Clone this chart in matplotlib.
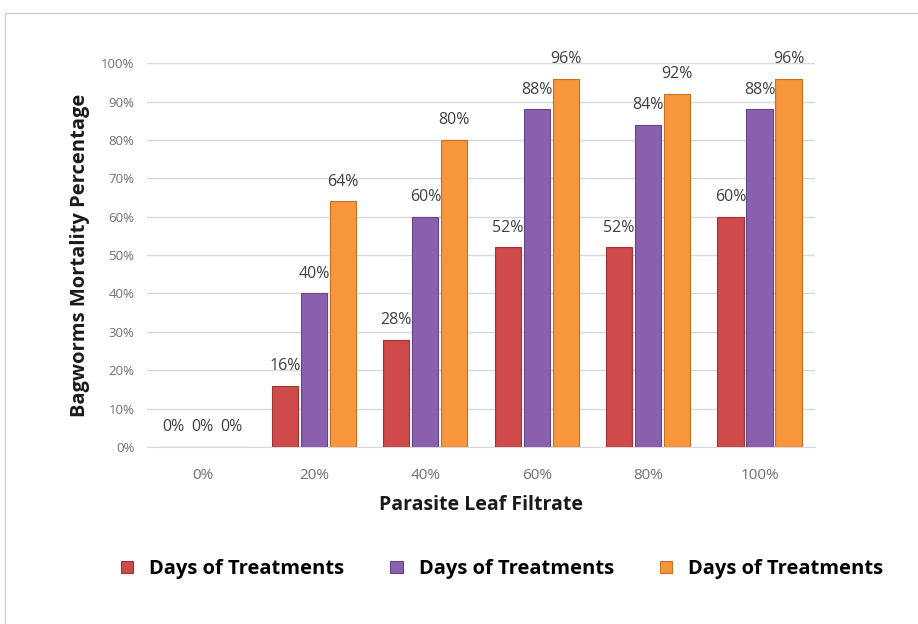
import matplotlib.pyplot as plt
from matplotlib.patches import Rectangle
import numpy as np

categories = ['0%', '20%', '40%', '60%', '80%', '100%']
series_names = ['Days of Treatments', 'Days of Treatments', 'Days of Treatments']
red_vals = [0, 16, 28, 52, 52, 60]
purple_vals = [0, 40, 60, 88, 84, 88]
orange_vals = [0, 64, 80, 96, 92, 96]
yticks = [0, 10, 20, 30, 40, 50, 60, 70, 80, 90, 100]

plt.rcParams['font.family'] = ['Open Sans', 'DejaVu Sans']

fig = plt.figure(figsize=(9.18, 6.24), dpi=100)
fig.patches.append(Rectangle((5 / 918, -0.1), 1.2, 1 - 13 / 624 + 0.1,
                             transform=fig.transFigure, fill=False,
                             edgecolor='#D0D0D0', linewidth=1))
ax = fig.add_axes([0.160, 0.2837, 0.728, 0.615])

x = np.arange(len(categories))
colors = ['#CF4A4A', '#8A60AE', '#F7963C']
edges = ['#A03333', '#654487', '#C9701E']
width = 0.235
offsets = [-0.26, 0, 0.26]
all_vals = [red_vals, purple_vals, orange_vals]

handles = []
for vals, off, c, ec, name in zip(all_vals, offsets, colors, edges, series_names):
    bars = ax.bar(x + off, vals, width, color=c, edgecolor=ec, linewidth=0.8,
                  label=name, zorder=3)
    handles.append(bars)
    for xi, v in zip(x + off, vals):
        ax.text(xi, v + 3, f'{v}%', ha='center', va='bottom',
                fontsize=11.5, color='#404040', zorder=4)

ax.set_xlim(-0.5, len(categories) - 0.5)
ax.set_ylim(0, 100)
ax.set_yticks(yticks)
ax.set_yticklabels([f'{t}%' for t in yticks], fontsize=9.5, color='#707070')
ax.set_xticks(x)
ax.set_xticklabels(categories, fontsize=11, color='#707070')
ax.tick_params(axis='y', length=0, pad=9)
ax.tick_params(axis='x', length=0, pad=15)
ax.yaxis.grid(True, color='#D9D9D9', linewidth=1, zorder=0)
for s in ['top', 'right', 'left']:
    ax.spines[s].set_visible(False)
ax.spines['bottom'].set_color('#D9D9D9')

ax.set_xlabel('Parasite Leaf Filtrate', fontsize=14, fontweight='bold',
              color='#1a1a1a', labelpad=9)
ax.set_ylabel('Bagworms Mortality Percentage', fontsize=14.5, fontweight='bold',
              color='#1a1a1a', labelpad=8)

fig.legend(handles=handles, labels=series_names, loc='center',
           bbox_to_anchor=(0.547, 0.088), ncol=3, frameon=False,
           prop={'size': 14.5, 'weight': 'bold'}, handlelength=0.6,
           handleheight=0.6, columnspacing=2.3, handletextpad=0.8)

fig.savefig('out.png', dpi=100, facecolor='white')
